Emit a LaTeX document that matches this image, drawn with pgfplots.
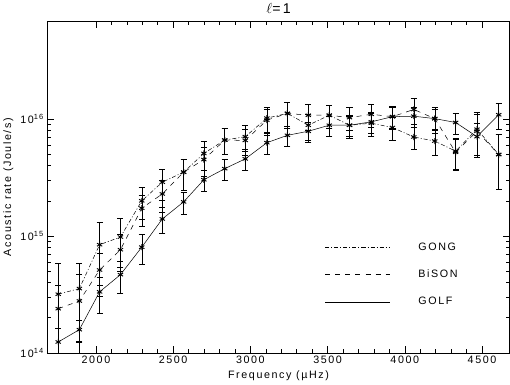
\documentclass[border=0pt]{standalone}
\usepackage{pgfplots}
\usepackage{pgfplotstable}
\pgfplotsset{compat=1.18}
\usepackage{fontspec}
\setmainfont{Liberation Sans}[LetterSpace=15]

% l=1 acoustic rates, relative errors
\pgfplotstableread{
f    gong    eg   bison   eb   golf    el
1756 3.18e14 0.85 2.39e14 0.60 1.24e14 0.30
1893 3.55e14 0.65 2.78e14 0.70 1.58e14 0.20
2024 8.43e14 0.55 5.12e14 0.40 3.33e14 0.34
2159 9.80e14 0.45 7.63e14 0.35 4.67e14 0.30
2297 2.00e15 0.30 1.73e15 0.30 8.03e14 0.28
2430 2.89e15 0.30 2.29e15 0.30 1.40e15 0.25
2568 3.52e15 0.30 3.52e15 0.30 1.96e15 0.22
2699 5.09e15 0.28 4.51e15 0.28 3.03e15 0.20
2834 6.62e15 0.25 6.62e15 0.25 3.77e15 0.20
2967 7.08e15 0.25 6.58e15 0.25 4.57e15 0.20
3107 1.02e16 0.25 9.80e15 0.25 6.29e15 0.20
3240 1.12e16 0.25 1.12e16 0.25 7.27e15 0.20
3375 8.87e15 0.25 1.08e16 0.25 7.88e15 0.20
3511 1.08e16 0.22 1.08e16 0.22 8.87e15 0.20
3642 8.87e15 0.22 1.03e16 0.22 8.87e15 0.20
3783 9.23e15 0.22 1.10e16 0.22 9.48e15 0.20
3920 8.48e15 0.22 1.05e16 0.22 1.05e16 0.20
4058 7.03e15 0.22 1.21e16 0.25 1.06e16 0.20
4194 6.49e15 0.25 1.01e16 0.25 1.01e16 0.20
4329 5.32e15 0.30 5.20e15 0.30 9.36e15 0.20
4467 8.20e15 0.40 7.88e15 0.40 7.08e15 0.30
4608 4.98e15 0.50 4.98e15 0.50 1.09e16 0.25
}\rates

\begin{document}
\begin{tikzpicture}[font=\fontsize{10.6}{12}\selectfont]
\begin{axis}[
    scale only axis,
    width=457pt, height=328pt,
    ymode=log,
    xmin=1686, xmax=4679,
    ymin=1e14, ymax=6.9e16,
    xtick={2000,2500,...,4500},
    minor x tick num=4,
    ytick={1e14,1e15,1e16},
    yticklabels={10\textsuperscript{14},10\textsuperscript{15},10\textsuperscript{16}},
    xticklabel style={/pgf/number format/.cd, 1000 sep={}, assume math mode=true},
    major tick length=7pt, minor tick length=3.5pt,
    tick style={black, line width=0.5pt},
    axis line style={line width=0.6pt},
    title={$\ell$=1},
    title style={font=\fontsize{14}{15}\selectfont, yshift=-2pt},
    xlabel={Frequency (\textmu Hz)},
    ylabel={Acoustic rate (Joule/s)},
    error bars/y dir=both, error bars/y explicit relative,
    error bars/error bar style={line width=0.5pt, solid},
    error bars/error mark options={rotate=90, mark size=3pt, line width=0.5pt},
    legend style={draw=none, fill=none, at={(0.593,0.345)}, anchor=north west,
        row sep=14pt, column sep=26pt, font=\fontsize{10.6}{12}\selectfont},
    legend cell align=left,
    legend image code/.code={\draw[#1] (0pt,0pt) -- (64pt,0pt);},
]
\addplot[black, line width=0.5pt, dash pattern=on 4pt off 2pt on 1pt off 2pt,
    mark=asterisk, mark size=3pt, mark options={solid, line width=0.9pt}]
    table[x=f, y=gong, y error=eg] {\rates};
\addlegendentry{GONG}
\addplot[black, line width=0.5pt, dash pattern=on 5pt off 5pt,
    mark=asterisk, mark size=3pt, mark options={solid, line width=0.9pt}]
    table[x=f, y=bison, y error=eb] {\rates};
\addlegendentry{BiSON}
\addplot[black, line width=0.5pt, solid,
    mark=asterisk, mark size=3pt, mark options={solid, line width=0.9pt}]
    table[x=f, y=golf, y error=el] {\rates};
\addlegendentry{GOLF}
\end{axis}
\end{tikzpicture}
\end{document}
